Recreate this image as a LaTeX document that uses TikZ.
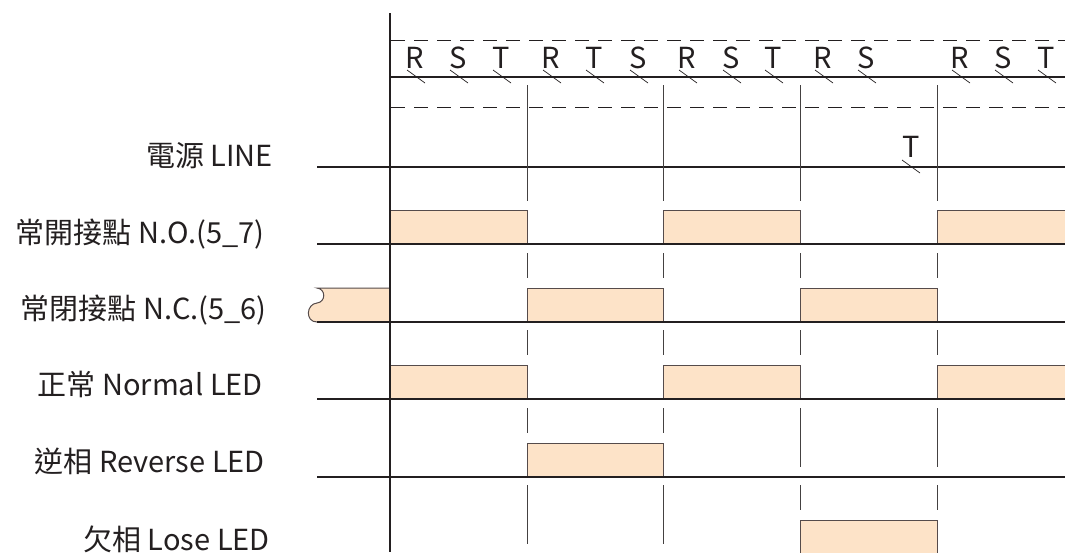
\documentclass[tikz,border=0pt]{standalone}
\usepackage{fontspec}
\setmainfont{Noto Sans CJK TC}
\usetikzlibrary{positioning}
\definecolor{inkline}{RGB}{35,31,32}
\definecolor{pulsefill}{RGB}{253,227,200}
\definecolor{pulseedge}{RGB}{85,75,75}
\begin{document}
\begin{tikzpicture}[x=1pt, y=-1pt,
    rowline/.style={draw=inkline, line width=1.1pt},
    guide/.style={draw=inkline, line width=1pt, dash pattern=on 14pt off 9pt},
    divider/.style={draw=inkline!85, line width=1pt},
    pulse/.style={fill=pulsefill, draw=pulseedge, line width=1pt},
    tick/.style={draw=inkline, line width=0.7pt},
    phase/.style={anchor=base, inner sep=0pt, text=inkline, font=\fontsize{29}{31}\selectfont},
    signal/.style={anchor=base east, inner sep=0pt, text=inkline, font=\fontsize{29}{31}\selectfont}
]
\useasboundingbox (0,0) rectangle (1065,552);
\clip (0,0) rectangle (1065,552);
\node[signal] (line) at (273,166) {電源 LINE};
\node[signal] (no) at (265,243) {常開接點 N.O.(5\_7)};
\node[signal] (nc) at (267,319) {常閉接點 N.C.(5\_6)};
\node[signal] (normal) at (263,395) {正常 Normal LED};
\node[signal] (reverse) at (265,472) {逆相 Reverse LED};
\node[signal] (lose) at (270,550) {欠相 Lose LED};
\foreach \a/\b/\y in {390/527/244, 663/800/244, 937/1075/244,
                      527/663/322, 800/937/322,
                      390/527/399, 663/800/399, 937/1075/399,
                      527/663/477, 800/937/554}
  \filldraw[pulse] (\a,\y) -- (\a,\y-34) -- (\b,\y-34) -- (\b,\y);
\filldraw[pulse] (390,288) -- (317,288) .. controls (326,289) and (326,302) .. (317,303)
  .. controls (306,304) and (305,322) .. (317,322) -- (390,322);
\foreach \y in {167,244,322,399,477}
  \draw[rowline] (317,\y) -- (1065,\y);
\draw[rowline] (390,77) -- (1065,77);
\draw[guide] (391,40) -- (1065,40);
\draw[guide] (391,107) -- (1065,107);
\draw[rowline] (390,13) -- (390,552);
\foreach \x in {527,663}
  \foreach \t/\b in {85/201, 253/278, 330/355, 408/433, 485/544}
    \draw[divider] (\x,\t) -- (\x,\b);
\foreach \x in {800,937}
  \foreach \t/\b in {85/201, 253/278, 330/355, 408/467, 485/510}
    \draw[divider] (\x,\t) -- (\x,\b);
\foreach \s/\p [count=\i] in {407/R, 450/S, 493/T, 543/R, 586/T, 630/S, 679/R,
                             723/S, 765/T, 815/R, 858/S, 952/R, 995/S, 1038/T} {
  \node[phase] (ph\i) at (\s+8,68) {\p};
  \draw[tick] (\s,70) -- ++(18,13);
}
\node[phase] (lineT) at (911,157) {T};
\draw[tick] (902,160) -- ++(18,13);
\end{tikzpicture}
\end{document}
